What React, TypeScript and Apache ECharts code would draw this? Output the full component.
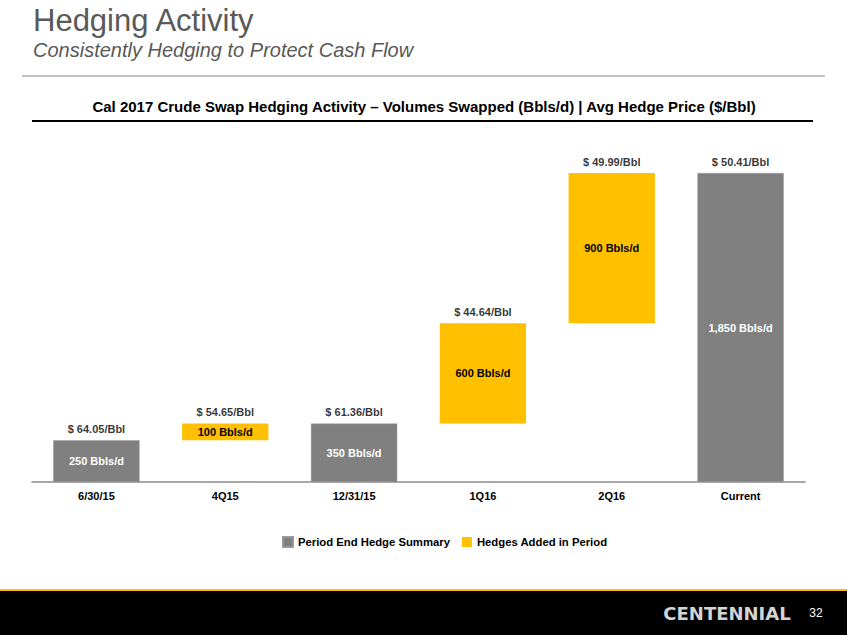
import React, { useEffect, useRef } from "react";
import * as echarts from "echarts";

const categories = ["6/30/15", "4Q15", "12/31/15", "1Q16", "2Q16", "Current"];
const baseValues = [0, 250, 0, 350, 950, 0];
const periodEnd: (number | string)[] = [250, "-", 350, "-", "-", 1850];
const hedgesAdded: (number | string)[] = ["-", 100, "-", 600, 900, "-"];
const totals = [250, 350, 350, 950, 1850, 1850];
const volumeLabels = ["250 Bbls/d", "100 Bbls/d", "350 Bbls/d", "600 Bbls/d", "900 Bbls/d", "1,850 Bbls/d"];
const priceLabels = ["$ 64.05/Bbl", "$ 54.65/Bbl", "$ 61.36/Bbl", "$ 44.64/Bbl", "$ 49.99/Bbl", "$ 50.41/Bbl"];

const GRAY = "#808080";
const YELLOW = "#FFC000";
const FONT = "'Liberation Sans', Arial, sans-serif";

export default function App() {
  const ref = useRef<HTMLDivElement>(null);
  useEffect(() => {
    if (!ref.current) return;
    const chart = echarts.init(ref.current, null, { renderer: "svg" });
    const labelStyle = { fontFamily: FONT, fontWeight: "bold" as const, fontSize: 11 };
    chart.setOption({
      animation: false,
      textStyle: { fontFamily: FONT },
      grid: { left: 32, right: 42, top: 148, bottom: 153, containLabel: false },
      xAxis: {
        type: "category",
        data: categories,
        axisLine: { lineStyle: { color: "#8c8c8c", width: 1.5 } },
        axisTick: { show: false },
        axisLabel: { ...labelStyle, color: "#000", margin: 8 },
      },
      yAxis: { type: "value", min: 0, max: 2000, show: false, splitLine: { show: false } },
      legend: {
        data: ["Period End Hedge Summary", "Hedges Added in Period"],
        left: 277,
        top: 531,
        itemWidth: 10,
        itemHeight: 10,
        itemGap: 12,
        icon: "rect",
        textStyle: { ...labelStyle, color: "#000", fontSize: 11.3 },
      },
      series: [
        {
          name: "base",
          type: "bar",
          stack: "total",
          data: baseValues,
          itemStyle: { color: "transparent" },
          barWidth: "67%",
          silent: true,
        },
        {
          name: "Period End Hedge Summary",
          type: "bar",
          stack: "total",
          data: periodEnd,
          barWidth: "67%",
          itemStyle: { color: GRAY, borderColor: "#999", borderWidth: 0.5 },
          label: {
            show: true,
            position: "inside",
            ...labelStyle,
            color: "#fff",
            formatter: (p: any) => volumeLabels[p.dataIndex],
          },
        },
        {
          name: "Hedges Added in Period",
          type: "bar",
          stack: "total",
          data: hedgesAdded,
          barWidth: "67%",
          itemStyle: { color: YELLOW },
          label: {
            show: true,
            position: "inside",
            ...labelStyle,
            color: "#000",
            formatter: (p: any) => volumeLabels[p.dataIndex],
          },
        },
        {
          name: "price",
          type: "scatter",
          data: totals,
          symbolSize: 0,
          silent: true,
          label: {
            show: true,
            position: "top",
            distance: 6,
            ...labelStyle,
            color: "#000",
            formatter: (p: any) => priceLabels[p.dataIndex],
          },
        },
      ],
      graphic: [
        {
          type: "text",
          left: 33,
          top: 5,
          style: { text: "Hedging Activity", fontFamily: FONT, fontSize: 31, fill: "#595959" },
        },
        {
          type: "text",
          left: 33,
          top: 40,
          style: {
            text: "Consistently Hedging to Protect Cash Flow",
            fontFamily: FONT,
            fontSize: 20,
            fontStyle: "italic",
            fill: "#595959",
          },
        },
        {
          type: "line",
          shape: { x1: 22, y1: 76, x2: 825, y2: 76 },
          style: { stroke: "#c0c0c0", lineWidth: 2 },
        },
        {
          type: "text",
          x: 424,
          y: 106,
          style: {
            text: "Cal 2017 Crude Swap Hedging Activity – Volumes Swapped (Bbls/d) | Avg Hedge Price ($/Bbl)",
            fontFamily: FONT,
            fontSize: 15,
            fontWeight: "bold",
            fill: "#000",
            align: "center",
            verticalAlign: "middle",
          },
        },
        {
          type: "line",
          shape: { x1: 32, y1: 121, x2: 813, y2: 121 },
          style: { stroke: "#000", lineWidth: 2 },
        },
        {
          type: "rect",
          shape: { x: 0, y: 590, width: 847, height: 45 },
          style: { fill: "#000" },
        },
        {
          type: "rect",
          shape: { x: 0, y: 589, width: 847, height: 2 },
          style: { fill: YELLOW },
        },
        {
          type: "text",
          x: 727,
          y: 613,
          style: {
            text: "CENTENNIAL",
            fontFamily: "'DejaVu Sans', sans-serif",
            fontSize: 18,
            fontWeight: "bold",
            fill: "#d4d4d4",
            align: "center",
            verticalAlign: "middle",
          },
        },
        {
          type: "text",
          x: 816,
          y: 613,
          style: {
            text: "32",
            fontFamily: FONT,
            fontSize: 12,
            fill: "#fff",
            align: "center",
            verticalAlign: "middle",
          },
        },
      ],
    });
    return () => chart.dispose();
  }, []);
  return (
    <div
      ref={ref}
      style={{ position: "fixed", left: 0, top: 0, width: 847, height: 635, background: "#fff" }}
    />
  );
}
